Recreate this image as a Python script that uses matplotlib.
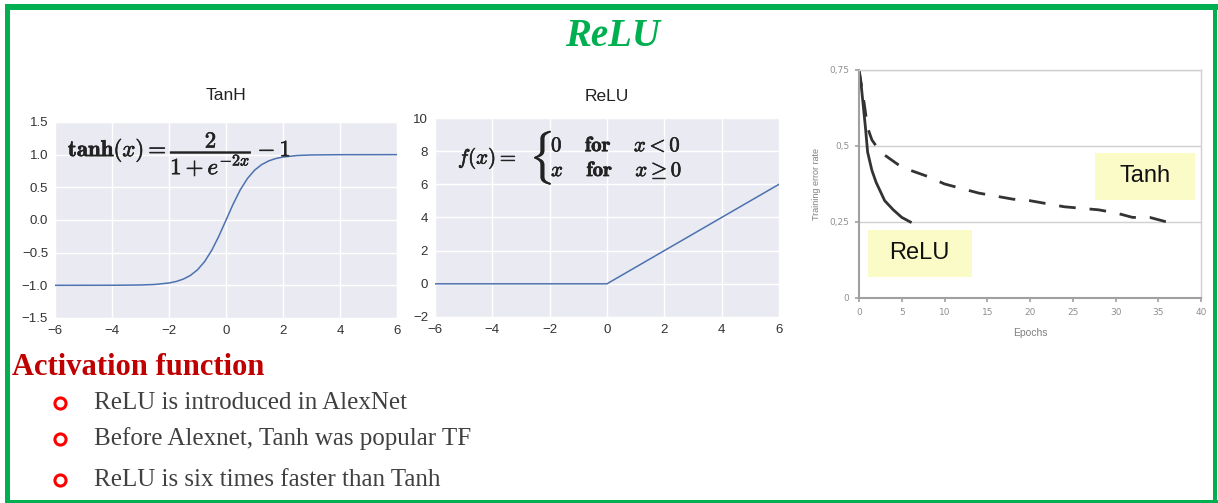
import matplotlib
matplotlib.use("Agg")
import matplotlib.pyplot as plt
import matplotlib.patheffects as pe
from matplotlib.patches import Rectangle

plt.rcParams["mathtext.fontset"] = "cm"

# tanh curve samples
tanh_x = [-6, -4, -3, -2.5, -2, -1.75, -1.5, -1.25, -1, -0.75, -0.5, -0.25, 0,
          0.25, 0.5, 0.75, 1, 1.25, 1.5, 1.75, 2, 2.5, 3, 4, 6]
tanh_y = [-1.0, -0.999, -0.995, -0.987, -0.964, -0.941, -0.905, -0.848, -0.762,
          -0.635, -0.462, -0.245, 0.0, 0.245, 0.462, 0.635, 0.762, 0.848, 0.905,
          0.941, 0.964, 0.987, 0.995, 0.999, 1.0]

# relu curve samples
relu_x = [-6, 0, 6]
relu_y = [0, 0, 6]

# training error rate vs epochs
tanh_epochs = [0, 0.5, 1, 1.5, 2, 3, 4, 5, 6, 8, 10, 12, 14, 16, 18, 20, 22, 24,
               26, 28, 30, 32, 34, 36]
tanh_err = [0.75, 0.66, 0.56, 0.52, 0.50, 0.47, 0.45, 0.43, 0.42, 0.40, 0.375,
            0.36, 0.345, 0.335, 0.325, 0.32, 0.31, 0.30, 0.295, 0.29, 0.28,
            0.265, 0.265, 0.25]
relu_epochs = [0, 0.25, 0.5, 0.75, 1, 1.5, 2, 2.5, 3, 4, 5, 6]
relu_err = [0.75, 0.70, 0.63, 0.56, 0.48, 0.42, 0.38, 0.35, 0.32, 0.29, 0.265, 0.25]

bullets = ["ReLU is introduced in AlexNet",
           "Before Alexnet, Tanh was popular TF",
           "ReLU is six times faster than Tanh"]

GREEN = "#00B050"
DARKRED = "#C00000"
BG = "#EAEAF2"
LINE = "#4C72B0"
SANS = "Liberation Sans"
INK = "#222222"
heavy = [pe.withStroke(linewidth=0.45, foreground=INK)]

fig = plt.figure(figsize=(12.18, 5.03), dpi=100)
fig.patch.set_facecolor("white")

# slide border
for x, y, w, h in [(0.004, 0.980, 0.996, 0.012), (0.004, 0.0, 0.0042, 0.992),
                   (0.9955, 0.0, 0.004, 0.992), (0.004, 0.0, 0.996, 0.005)]:
    fig.add_artist(Rectangle((x, y), w, h, transform=fig.transFigure,
                             facecolor=GREEN, edgecolor="none", zorder=10))

fig.text(0.503, 0.928, "ReLU", color=GREEN, fontsize=28, fontweight="bold",
         fontstyle="italic", family="Liberation Serif", ha="center", va="center")


def darkgrid(ax):
    ax.set_facecolor(BG)
    for s in ax.spines.values():
        s.set_visible(False)
    ax.grid(True, color="white", linewidth=1)
    ax.set_axisbelow(True)
    ax.tick_params(length=0, labelsize=9.5, colors="#333333", pad=5)
    for lab in ax.get_xticklabels() + ax.get_yticklabels():
        lab.set_family(SANS)


# TanH panel
ax1 = fig.add_axes([0.0452, 0.3678, 0.2808, 0.3897])
ax1.plot(tanh_x, tanh_y, color=LINE, linewidth=1.1)
ax1.set_xlim(-6, 6)
ax1.set_ylim(-1.5, 1.5)
ax1.set_xticks(range(-6, 7, 2))
ax1.set_yticks([-1.5, -1.0, -0.5, 0.0, 0.5, 1.0, 1.5])
ax1.set_yticklabels(["\u22121.5", "\u22121.0", "\u22120.5", "0.0", "0.5", "1.0", "1.5"])
ax1.set_xticklabels(["\u22126", "\u22124", "\u22122", "0", "2", "4", "6"])
darkgrid(ax1)
ax1.set_title("TanH", fontsize=12.5, color=INK, pad=16, family=SANS)
ax1.text(-5.55, 1.0,
         r"$\mathbf{tanh}(x) = \dfrac{\mathbf{2}}{\mathbf{1}+e^{-\mathbf{2}x}} - \mathbf{1}$",
         fontsize=16.5, ha="left", va="center", color=INK, path_effects=heavy)

# ReLU panel
ax2 = fig.add_axes([0.3571, 0.3698, 0.2824, 0.3956])
ax2.plot(relu_x, relu_y, color=LINE, linewidth=1.1)
ax2.set_xlim(-6, 6)
ax2.set_ylim(-2, 10)
ax2.set_xticks(range(-6, 7, 2))
ax2.set_xticklabels(["\u22126", "\u22124", "\u22122", "0", "2", "4", "6"])
ax2.set_yticks(range(-2, 11, 2))
ax2.set_yticklabels(["\u22122", "0", "2", "4", "6", "8", "10"])
darkgrid(ax2)
ax2.set_title("ReLU", fontsize=12.5, color=INK, pad=12, family=SANS)
ax2.text(-5.2, 7.55, r"$f(x) =$", fontsize=15, ha="left", va="center",
         color=INK, path_effects=heavy)
ax2.text(-2.3, 7.6, r"$\{$", fontsize=32, ha="center", va="center",
         color=INK, path_effects=heavy)
ax2.text(-1.95, 8.35, r"$\mathbf{0}\quad\;\mathbf{for}\quad\; x < \mathbf{0}$",
         fontsize=15, ha="left", va="center", color=INK, path_effects=heavy)
ax2.text(-1.95, 6.85, r"$x\quad\;\mathbf{for}\quad\; x \geq \mathbf{0}$",
         fontsize=15, ha="left", va="center", color=INK, path_effects=heavy)

# training error panel
ax3 = fig.add_axes([0.7053, 0.4076, 0.2808, 0.4533])
ax3.plot(relu_epochs, relu_err, color="#333333", linewidth=2)
ax3.plot(tanh_epochs, tanh_err, color="#333333", linewidth=2, dashes=(6, 5))
ax3.set_xlim(0, 40)
ax3.set_ylim(0, 0.75)
ax3.set_xticks(range(0, 41, 5))
ax3.set_yticks([0, 0.25, 0.5, 0.75])
ax3.set_yticklabels(["0", "0,25", "0,5", "0,75"])
ax3.grid(True, axis="y", color="#D0D0D0", linewidth=1)
ax3.set_axisbelow(True)
for side in ["left", "bottom"]:
    ax3.spines[side].set_color("#A0A0A0")
    ax3.spines[side].set_linewidth(1.5)
for side in ["top", "right"]:
    ax3.spines[side].set_color("#D0D0D0")
    ax3.spines[side].set_linewidth(1)
ax3.tick_params(length=3, width=1.2, color="#A0A0A0", labelsize=6.5,
                labelcolor="#909090", pad=4)
ax3.set_xlabel("Epochs", fontsize=7.5, color="#808080", labelpad=8, family=SANS)
ax3.set_ylabel("Training error rate", fontsize=6.5, color="#808080", labelpad=6,
               family=SANS)

ax3.add_patch(Rectangle((27.6, 0.322), 11.7, 0.155, facecolor="#FBFBC8",
                        edgecolor="none", zorder=1))
ax3.text(33.5, 0.40, "Tanh", fontsize=17, ha="center", va="center",
         color="#111111", family=SANS, zorder=3)
ax3.add_patch(Rectangle((1.05, 0.069), 12.15, 0.155, facecolor="#FBFBC8",
                        edgecolor="none", zorder=1))
ax3.text(7.1, 0.148, "ReLU", fontsize=17, ha="center", va="center",
         color="#111111", family=SANS, zorder=3)

# text block
fig.text(0.0095, 0.270, "Activation function", color=DARKRED, fontsize=22,
         fontweight="bold", family="Liberation Serif", ha="left", va="center")
bullet_y = [0.198, 0.128, 0.046]
for y, line in zip(bullet_y, bullets):
    fig.add_artist(plt.Line2D([0.0493], [y], marker="o", markersize=8,
                              markerfacecolor="none", markeredgecolor="#FF0000",
                              markeredgewidth=2.2, transform=fig.transFigure))
    fig.text(0.0775, y, line, color="#404040", fontsize=18,
             family="Liberation Serif", ha="left", va="center")

fig.savefig("out.png", dpi=100)
